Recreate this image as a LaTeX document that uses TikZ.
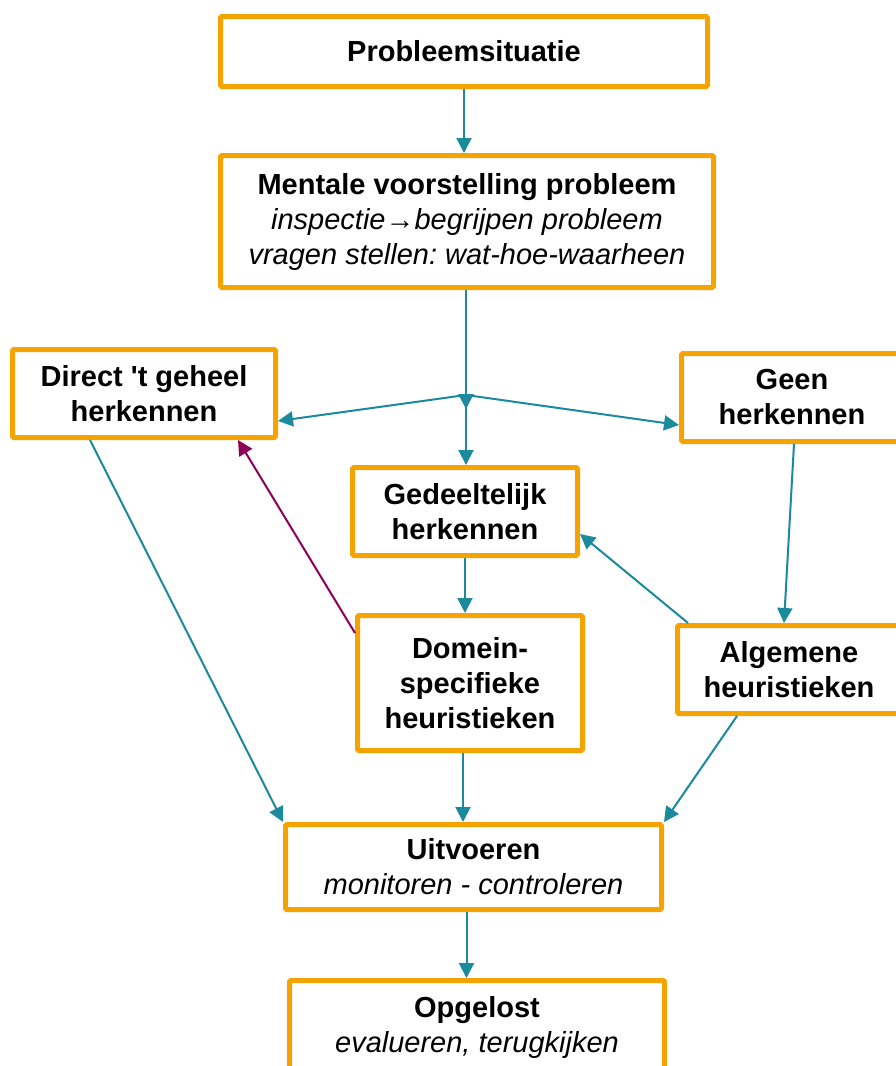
\documentclass[tikz,border=0pt]{standalone}
\usepackage{fontspec}
\setmainfont{Liberation Sans}
\usetikzlibrary{arrows.meta,calc}
\definecolor{boxorange}{HTML}{F5A300}
\definecolor{linkteal}{HTML}{1A8A9C}
\definecolor{linkmag}{HTML}{8E0058}
\frenchspacing
\begin{document}
\begin{tikzpicture}[x=1pt,y=-1pt,
  box/.style={draw=boxorange, line width=5pt, fill=white, rounded corners=1.5pt,
    align=center, inner sep=0pt, font=\fontsize{29}{35}\selectfont\bfseries},
  link/.style={draw=linkteal, line width=2pt, -{Triangle[length=15pt,width=15pt]}},
  backlink/.style={link, draw=linkmag}]
\useasboundingbox (0,0) rectangle (896,1066);
\fill[white] (0,0) rectangle (896,1066);
\clip (0,0) rectangle (896,1066);

\node[box, minimum width=487pt, minimum height=70pt] (p1) at (464,51.5) {Probleemsituatie};
\node[box, minimum width=493pt, minimum height=132pt] (p2) at (467,221.5)
  {Mentale voorstelling probleem\\ {\mdseries\itshape inspectie→begrijpen probleem}\\ {\mdseries\itshape vragen stellen: wat-hoe-waarheen}};
\node[box, minimum width=263pt, minimum height=88pt] (direct) at (144,393.5) {Direct \textquotesingle t geheel\\ herkennen};
\node[box, minimum width=221pt, minimum height=88pt] (geen) at (792,397.5) {Geen\\ herkennen};
\node[box, minimum width=225pt, minimum height=88pt] (gedeel) at (465,511.5) {Gedeeltelijk\\ herkennen};
\node[box, minimum width=225pt, minimum height=135pt] (domein) at (470,683) {Domein-\\ specifieke\\ heuristieken};
\node[box, minimum width=223pt, minimum height=88pt] (algem) at (789,669.5) {Algemene\\ heuristieken};
\node[box, minimum width=376pt, minimum height=85pt] (uitv) at (473.5,867)
  {Uitvoeren\\ {\mdseries\itshape monitoren - controleren}};
\node[box, minimum width=375pt, minimum height=94pt] (opgel) at (477,1027.5)
  {Opgelost\\ {\mdseries\itshape evalueren, terugkijken}};

\coordinate (J) at (466,395);
\coordinate (Jt) at (466,409);

\draw[link] (p1.south) -- (p1.south |- p2.north);
\draw[link] (p2.south -| J) -- (Jt);
\draw[link] (J) -- ([yshift=-27.5pt]direct.east);
\draw[link] (J) -- ([yshift=-27.5pt]geen.west);
\draw[link] (J) -- (J |- gedeel.north);
\draw[link] (gedeel.south) -- (gedeel.south |- domein.north);
\draw[link] ([xshift=-7pt]domein.south) -- ([xshift=-7pt]domein.south |- uitv.north);
\draw[link] ([xshift=80pt]direct.south west) -- (uitv.north west);
\draw[backlink] ([yshift=-20pt]domein.north west) -- ([xshift=-40pt]direct.south east);
\draw[link] ([xshift=2pt]geen.south) -- ([xshift=-5pt]algem.north);
\draw[link] ([xshift=13pt]algem.north west) -- ([yshift=-22.5pt]gedeel.east);
\draw[link] ([xshift=-52pt]algem.south) -- (uitv.north east);
\draw[link] ([xshift=-7pt]uitv.south) -- ([xshift=-7pt]uitv.south |- opgel.north);
\end{tikzpicture}
\end{document}
